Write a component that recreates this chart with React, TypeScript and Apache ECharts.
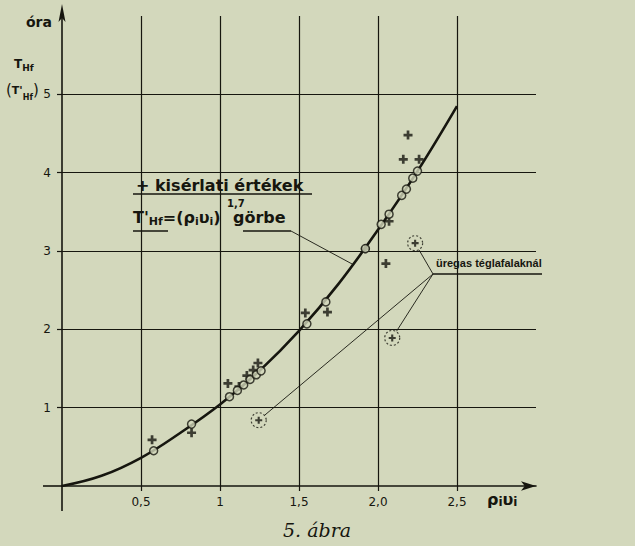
import React, { useEffect, useRef } from 'react';
import * as echarts from 'echarts';

// ---- data ----
const curveX = [0, 0.25, 0.5, 0.75, 1.0, 1.25, 1.5, 1.75, 2.0, 2.25, 2.5];
const curveY = [0, 0.13, 0.36, 0.68, 1.04, 1.47, 1.98, 2.58, 3.27, 4.02, 4.85];

const circleX = [0.58, 0.82, 1.06, 1.11, 1.15, 1.19, 1.23, 1.26, 1.55, 1.67, 1.92, 2.02, 2.07, 2.15, 2.18, 2.22, 2.25];
const circleY = [0.45, 0.79, 1.14, 1.22, 1.29, 1.36, 1.42, 1.47, 2.07, 2.35, 3.03, 3.34, 3.47, 3.71, 3.79, 3.93, 4.02];

const crossX = [0.57, 0.82, 1.05, 1.12, 1.17, 1.21, 1.24, 1.54, 1.68, 1.92, 2.05, 2.07, 2.16, 2.19, 2.26];
const crossY = [0.59, 0.68, 1.31, 1.27, 1.41, 1.48, 1.57, 2.21, 2.22, 3.03, 2.84, 3.38, 4.17, 4.48, 4.17];

const hollowX = [2.235, 2.09, 1.245];
const hollowY = [3.1, 1.89, 0.84];

const curveLabelAnchor = [1.84, 2.83];

const xTickValues = [0.5, 1, 1.5, 2, 2.5];
const xTickLabels = ['0,5', '1', '1,5', '2,0', '2,5'];
const yTickValues = [1, 2, 3, 4, 5];
const yTickLabels = ['1', '2', '3', '4', '5'];

const BG = '#d3d8bc';
const INK = '#16160f';
const PLUS = 'path://M3.5,0H6.5V3.5H10V6.5H6.5V10H3.5V6.5H0V3.5H3.5Z';
const LETTER = 'DejaVu Sans';

const zip = (xs: number[], ys: number[]) => xs.map((x, i) => [x, ys[i]]);
const labelOf = (vals: number[], labels: string[]) => (v: number) => {
  const i = vals.findIndex((t) => Math.abs(t - v) < 1e-6);
  return i >= 0 ? labels[i] : '';
};

export default function App() {
  const ref = useRef<HTMLDivElement>(null);
  useEffect(() => {
    const chart = echarts.init(ref.current!, null, { renderer: 'svg' });
    chart.setOption({
      animation: false,
      backgroundColor: BG,
      grid: { left: 62, right: 99, top: 16, bottom: 60, containLabel: false },
      xAxis: {
        type: 'value',
        min: 0,
        max: 3,
        interval: 0.5,
        axisLine: { show: true, onZero: false, symbol: ['none', 'arrow'], symbolSize: [7, 15], lineStyle: { color: INK, width: 1.6 } },
        axisTick: { show: true, customValues: xTickValues, length: 5, lineStyle: { color: INK, width: 1.2 } },
        axisLabel: {
          customValues: xTickValues,
          formatter: labelOf(xTickValues, xTickLabels),
          color: INK,
          fontFamily: LETTER,
          fontSize: 12,
          margin: 10,
        },
        splitLine: { show: true, showMinLine: true, showMaxLine: true, lineStyle: { color: INK, width: 1.2 } },
      },
      yAxis: {
        type: 'value',
        min: 0,
        max: 6,
        interval: 1,
        axisLine: { show: true, onZero: false, lineStyle: { color: INK, width: 1.6 } },
        axisTick: { show: true, customValues: yTickValues, length: 5, lineStyle: { color: INK, width: 1.2 } },
        axisLabel: {
          customValues: yTickValues,
          formatter: labelOf(yTickValues, yTickLabels),
          color: INK,
          fontFamily: LETTER,
          fontSize: 12,
          margin: 11,
        },
        splitLine: { show: true, showMinLine: true, showMaxLine: true, lineStyle: { color: INK, width: 1.2 } },
      },
      series: [
        {
          type: 'line',
          data: zip(curveX, curveY),
          smooth: 0.4,
          symbol: 'none',
          lineStyle: { color: INK, width: 2.6 },
          z: 2,
        },
        {
          type: 'scatter',
          data: zip(crossX, crossY),
          symbol: PLUS,
          symbolSize: 9,
          itemStyle: { color: INK },
          z: 3,
        },
        {
          type: 'scatter',
          data: zip(circleX, circleY),
          symbol: 'circle',
          symbolSize: 8,
          itemStyle: { color: BG, borderColor: INK, borderWidth: 1.5 },
          z: 4,
        },
        {
          type: 'scatter',
          data: zip(hollowX, hollowY),
          symbol: 'circle',
          symbolSize: 15,
          itemStyle: { color: 'transparent', borderColor: INK, borderWidth: 1.2, borderType: [2, 2] },
          z: 3,
        },
        {
          type: 'scatter',
          data: zip(hollowX, hollowY),
          symbol: PLUS,
          symbolSize: 7,
          itemStyle: { color: INK },
          z: 3,
        },
      ],
    });

    const P = (p: number[]) => chart.convertToPixel({ gridIndex: 0 } as any, p) as number[];
    const [x0, y0] = P([0, 0]);
    const [, yTop] = P([0, 6]);
    const anchor = P(curveLabelAnchor);
    const vertex = [433, 274];
    const hollowLines = zip(hollowX, hollowY).map((d) => {
      const [cx, cy] = P(d);
      const dx = vertex[0] - cx;
      const dy = vertex[1] - cy;
      const L = Math.hypot(dx, dy);
      return {
        type: 'line',
        shape: { x1: vertex[0], y1: vertex[1], x2: cx + (dx / L) * 8, y2: cy + (dy / L) * 8 },
        style: { stroke: INK, lineWidth: 0.9 },
      };
    });
    const ln = (x1: number, y1: number, x2: number, y2: number, w = 1.4) => ({
      type: 'line',
      shape: { x1, y1, x2, y2 },
      style: { stroke: INK, lineWidth: w },
    });
    const txt = (x: number, y: number, text: string, extra: any = {}) => ({
      type: 'text',
      x,
      y,
      style: { text, fill: INK, font: `13px ${LETTER}`, textVerticalAlign: 'middle', ...extra },
    });

    chart.setOption({
      graphic: [
        // axis overhangs and y arrow
        ln(x0, y0, x0, y0 + 25, 1.6),
        ln(x0 - 19, y0, x0, y0, 1.6),
        ln(x0, yTop, x0, 12, 1.6),
        { type: 'polygon', shape: { points: [[x0, 4], [x0 - 3.5, 22], [x0, 18], [x0 + 3.5, 22]] }, style: { fill: INK } },
        // y axis titles
        txt(26, 22, 'óra', { font: `bold 14px ${LETTER}` }),
        {
          type: 'text',
          x: 14,
          y: 56,
          style: {
            text: '{t|T}{s|Hf}',
            fill: INK,
            rich: {
              t: { fontSize: 12, fontFamily: LETTER, fontWeight: 'bold', lineHeight: 16, fill: INK },
              s: { fontSize: 9, fontFamily: LETTER, fontWeight: 'bold', lineHeight: 12, verticalAlign: 'bottom', fill: INK },
            },
          },
        },
        {
          type: 'text',
          x: 6,
          y: 79,
          style: {
            text: "{p|(}{t|T'}{s|Hf}{p|)}",
            fill: INK,
            rich: {
              p: { fontSize: 15, fontFamily: LETTER, lineHeight: 22, fill: INK },
              t: { fontSize: 11, fontFamily: LETTER, fontWeight: 'bold', lineHeight: 22, fill: INK },
              s: { fontSize: 8, fontFamily: LETTER, fontWeight: 'bold', lineHeight: 14, verticalAlign: 'bottom', fill: INK },
            },
          },
        },
        // x axis name
        {
          type: 'text',
          x: 487,
          y: 490,
          style: {
            text: '{a|ρ}{i|i}{a|υ}{i|i}',
            fill: INK,
            rich: {
              a: { fontSize: 16, fontFamily: LETTER, fontWeight: 'bold', lineHeight: 18, fill: INK },
              i: { fontSize: 12, fontFamily: LETTER, fontWeight: 'bold', lineHeight: 14, verticalAlign: 'bottom', fill: INK },
            },
          },
        },
        // annotation 1
        txt(136, 185, '+ kisérlati értékek', { font: `bold 16px ${LETTER}` }),
        ln(133, 194, 312, 194, 1.6),
        // annotation 2
        {
          type: 'text',
          x: 133,
          y: 207,
          style: {
            text: "{t|T'}{s|Hf}{m|=(ρ}{i|i}{m|υ}{i|i}{m|)}{sp|   }{m|görbe}",
            fill: INK,
            rich: {
              t: { fontSize: 16, fontFamily: LETTER, fontWeight: 'bold', lineHeight: 20, fill: INK },
              s: { fontSize: 11, fontFamily: LETTER, fontWeight: 'bold', lineHeight: 12, verticalAlign: 'bottom', fill: INK },
              m: { fontSize: 16, fontFamily: LETTER, fontWeight: 'bold', lineHeight: 20, fill: INK },
              i: { fontSize: 11, fontFamily: LETTER, fontWeight: 'bold', lineHeight: 12, verticalAlign: 'bottom', fill: INK },
              sp: { fontSize: 13, fontFamily: LETTER, lineHeight: 20 },
            },
          },
        },
        txt(227, 203, '1,7', { font: `bold 10px ${LETTER}` }),
        ln(133, 231, 168, 231, 1.6),
        ln(243, 231, 291, 231, 1.6),
        ln(291, 231, anchor[0], anchor[1], 0.9),
        // annotation 3
        txt(436, 263, 'üregas téglafalaknál', { font: `bold 11px Liberation Sans` }),
        ln(433, 274, 542, 274, 1.5),
        ...hollowLines,
        // caption
        txt(317, 530, '5. ábra', { font: `italic 19px DejaVu Serif`, textAlign: 'center' }),
      ],
    });
    return () => chart.dispose();
  }, []);
  return (
    <div style={{ position: 'fixed', left: 0, top: 0, width: 635, height: 546, background: BG }}>
      <div ref={ref} style={{ width: 635, height: 546 }} />
    </div>
  );
}
